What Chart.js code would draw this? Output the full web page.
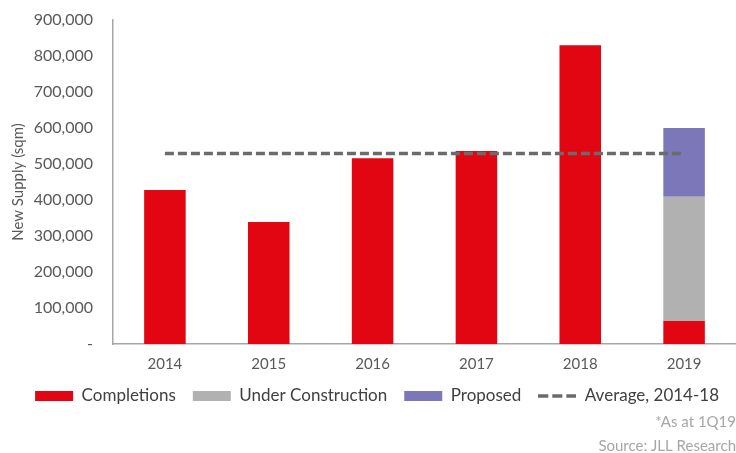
<!DOCTYPE html>
<html>
<head>
<meta charset="utf-8">
<script src="https://cdn.jsdelivr.net/npm/chart.js@4.4.0/dist/chart.umd.min.js"></script>
<style>
  html, body { margin: 0; padding: 0; background: #fff; }
  #wrap { width: 736px; height: 453px; }
</style>
</head>
<body>
<div id="wrap"><canvas id="canvas-chart"></canvas></div>
<script>
'use strict'

let years = ["2014", "2015", "2016", "2017", "2018", "2019"];
let completions = [428000, 339000, 516000, 536000, 830000, 64000];
let underConstruction = [null, null, null, null, null, 345000];
let proposed = [null, null, null, null, null, 191000];
let average = [529000, 529000, 529000, 529000, 529000, 529000];
let notes = ["*As at 1Q19", "Source: JLL Research"];

Chart.defaults.font.family = "Lato, 'Noto Sans', sans-serif";
Chart.defaults.color = "#595959";

// little dashed swatch for the average line in the legend
let dashIcon = document.createElement("canvas");
dashIcon.width = 38;
dashIcon.height = 10;
let dctx = dashIcon.getContext("2d");
dctx.strokeStyle = "#6b6b6b";
dctx.lineWidth = 3.5;
dctx.setLineDash([10, 4]);
dctx.beginPath();
dctx.moveTo(0, 5);
dctx.lineTo(38, 5);
dctx.stroke();

let chart = document.getElementById("canvas-chart").getContext("2d");

let chart1 = new Chart(chart, {
    type: "bar",
    data: {
        labels: years,
        datasets: [
            {
                label: "Completions",
                data: completions,
                backgroundColor: "#e20613",
                pointStyle: "rect",
                stack: "supply",
                order: 1,
            },
            {
                label: "Under Construction",
                data: underConstruction,
                backgroundColor: "#b1b1b1",
                pointStyle: "rect",
                stack: "supply",
                order: 1,
            },
            {
                label: "Proposed",
                data: proposed,
                backgroundColor: "#7b77b8",
                pointStyle: "rect",
                stack: "supply",
                order: 1,
            },
            {
                type: "line",
                label: "Average, 2014-18",
                data: average,
                borderColor: "#6b6b6b",
                backgroundColor: "#6b6b6b",
                borderWidth: 3.5,
                borderDash: [9, 4],
                pointRadius: 0,
                pointStyle: dashIcon,
                stack: "avg",
                order: 0,
            },
        ],
    },
    options: {
        responsive: true,
        maintainAspectRatio: false,
        animation: false,
        barPercentage: 0.4,
        categoryPercentage: 1,
        layout: { padding: { left: 9, right: 0, top: 0, bottom: 0 } },
        plugins: {
            tooltip: { enabled: false },
            legend: {
                position: "bottom",
                align: "end",
                // empty title with negative padding pulls the legend row up
                title: {
                    display: true,
                    text: "",
                    font: { size: 1, lineHeight: 1 },
                    padding: { top: -15.5, bottom: 0 },
                },
                labels: {
                    usePointStyle: true,
                    pointStyleWidth: 38,
                    boxHeight: 10,
                    padding: 17,
                    color: "#404040",
                    font: { size: 17, lineHeight: 1 },
                    sort: function (a, b) {
                        return a.datasetIndex - b.datasetIndex;
                    },
                },
            },
            subtitle: {
                display: true,
                position: "bottom",
                align: "end",
                text: notes,
                color: "#a6a6a6",
                font: { size: 15, lineHeight: 1.6 },
                padding: { top: -4.5, bottom: -5 },
            },
        },
        scales: {
            x: {
                stacked: true,
                grid: { display: false, drawTicks: false },
                border: { color: "#a6a6a6", width: 1.5 },
                ticks: {
                    font: { size: 15, lineHeight: 1 },
                    padding: 13,
                },
            },
            y: {
                stacked: true,
                min: 0,
                max: 900000,
                grid: { display: false, drawTicks: false },
                border: { color: "#a6a6a6", width: 1.5 },
                afterFit: function (scale) {
                    scale.width = 104;
                    scale.paddingTop = 20;
                    scale.paddingBottom = 10;
                },
                ticks: {
                    stepSize: 100000,
                    font: { size: 16 },
                    padding: 20,
                    callback: function (value) {
                        return value === 0 ? "-" : value.toLocaleString("en-US");
                    },
                },
                title: {
                    display: true,
                    text: "New Supply (sqm)",
                    font: { size: 15 },
                    padding: 0,
                },
            },
        },
    },
});
</script>
</body>
</html>
